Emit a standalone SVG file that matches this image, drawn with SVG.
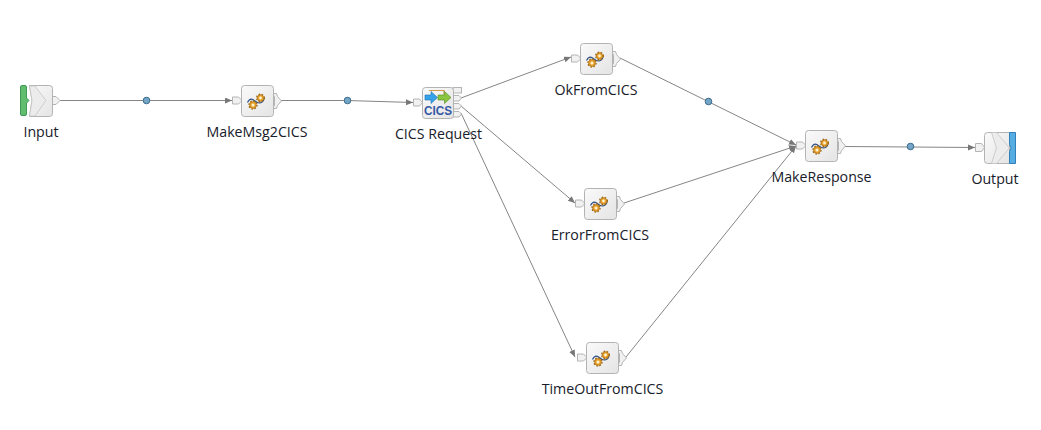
<svg xmlns="http://www.w3.org/2000/svg" width="1041" height="430" viewBox="0 0 1041 430">
<style>
.lbl{font-family:"Open Sans","Noto Sans","Liberation Sans",sans-serif;font-size:14.2px;fill:#17202a;text-anchor:middle}
.box{fill:url(#g);stroke:#b3b3b3;stroke-width:1}
.term{fill:#f1f1f1;stroke:#b4b4b4;stroke-width:1}
.conn{fill:none;stroke:#858585;stroke-width:1;marker-end:url(#arr)}
.dot{fill:#74a5c6;stroke:#3d6c8c;stroke-width:1}
.teeth{fill:none;stroke:#9a6410;stroke-width:1.400;stroke-dasharray:1.600 1.500}
.gear{fill:#e9a32e;stroke:#a86d12;stroke-width:.7}
</style>
<defs>
<linearGradient id="g" x1="0" y1="0" x2="1" y2="1"><stop offset="0" stop-color="#fafafa"/><stop offset="1" stop-color="#e4e4e4"/></linearGradient>
<marker id="arr" markerWidth="8" markerHeight="7" refX="7" refY="3" orient="auto" markerUnits="userSpaceOnUse"><path d="M0 0L7 3L0 6Z" fill="#777"/></marker>
<g id="compute">
<path class="term" d="M-9 11.500h6l3.500 3.500-3.500 3.500h-6z"/>
<path class="term" d="M31 8h4l1 3 4 4.500-4 4.500-1 3h-4l2-3.500v-8z"/>
<rect class="box" x="0" y="0" width="32" height="31" rx="3"/>
<path d="M6 17c2.500-5 5-3.500 7.500-1.500s6 4 9-1.500" fill="none" stroke="#2c4f86" stroke-width="1.100"/>
<circle class="teeth" cx="11.500" cy="19.500" r="4"/>
<circle class="gear" cx="11.500" cy="19.500" r="3.400"/>
<circle cx="11.500" cy="19.500" r="1.500" fill="#fdf3d0"/>
<circle class="teeth" cx="19" cy="12.500" r="3.800"/>
<circle class="gear" cx="19" cy="12.500" r="3.200"/>
<circle cx="19" cy="12.500" r="1.400" fill="#fdf3d0"/>
</g>
</defs>
<rect width="1041" height="430" fill="#ffffff"/>
<g id="connectors">
<path class="conn" d="M60 100.500H232"/>
<path class="conn" d="M281 100.500L347 100.500L413 102.500"/>
<path class="conn" d="M461 98L571 57"/>
<path class="conn" d="M461 106L575 203"/>
<path class="conn" d="M461 113L575 357"/>
<path class="conn" d="M620 58L796 145"/>
<path class="conn" d="M624 203L796 146"/>
<path class="conn" d="M626 357L796 146"/>
<path class="conn" d="M845 146.500L975 147.500"/>
<circle class="dot" cx="146.500" cy="100.500" r="3.300"/>
<circle class="dot" cx="347.500" cy="100.500" r="3.300"/>
<circle class="dot" cx="708.500" cy="101.500" r="3.300"/>
<circle class="dot" cx="910.500" cy="146.500" r="3.300"/>
</g>
<g id="input">
<path class="term" d="M52 96.500h4l4 4-4 4h-4z"/>
<path d="M20.500 87a1.500 1.500 0 0 1 1.500-1.500h3a1.500 1.500 0 0 1 1.500 1.500v11l2.500 2.500-2.500 2.500v11a1.500 1.500 0 0 1-1.500 1.500h-3a1.500 1.500 0 0 1-1.500-1.500z" fill="#62bd6e" stroke="#3f9a5a"/>
<path class="box" d="M29.500 85.500h20a3 3 0 0 1 3 3v25a3 3 0 0 1-3 3h-20l2.500-16z"/>
<path d="M35 86l11 14.500-11 15.500h-5.500l2.500-15.500-2.500-14.500z" fill="#ececec" stroke="#c4c4c4" stroke-width=".8"/>
<text class="lbl" x="41" y="137">Input</text>
</g>
<g id="makemsg2cics"><use href="#compute" x="241.500" y="85.500"/><text class="lbl" x="257" y="137">MakeMsg2CICS</text></g>
<g id="cicsrequest">
<path class="term" d="M413.500 99h6l3 3.500-3 3.500h-6z"/>
<rect class="term" x="453" y="87.500" width="8.500" height="5.500" fill="#e6e6e6"/>
<path class="term" d="M453 95.500h6l2.500 2.500-2.500 3h-6z"/>
<path class="term" d="M453 103.500h6l2.500 2.500-2.500 3h-6z"/>
<path class="term" d="M453 111.500h6l2.500 2.500-2.500 3h-6z"/>
<rect class="box" x="422.500" y="87.500" width="31" height="31" rx="3"/>
<path d="M429 90.500h15v4" fill="none" stroke="#cf9a45" stroke-width="1.200"/>
<path d="M425 95h6v-3.500l6.500 6-6.500 6v-3.500h-6z" fill="#36a2e8" stroke="#1f6fb5" stroke-width=".6"/>
<path d="M438 95h6.500v-3.500l6.500 6-6.500 6v-3.500h-6.500z" fill="#8ac63f" stroke="#4f8a22" stroke-width=".6"/>
<text x="438" y="115" font-family="Liberation Sans,sans-serif" font-size="13" font-weight="700" fill="#3558a4" text-anchor="middle" textLength="28" lengthAdjust="spacingAndGlyphs">CICS</text>
<text class="lbl" x="438.500" y="139">CICS Request</text>
</g>
<g id="okfromcics"><use href="#compute" x="580.500" y="43.500"/><text class="lbl" x="596" y="95">OkFromCICS</text></g>
<g id="errorfromcics"><use href="#compute" x="584.500" y="188.500"/><text class="lbl" x="600" y="240">ErrorFromCICS</text></g>
<g id="timeoutfromcics"><use href="#compute" x="586.500" y="342.500"/><text class="lbl" x="602.500" y="394">TimeOutFromCICS</text></g>
<g id="makeresponse"><use href="#compute" x="805.500" y="130.500"/><text class="lbl" x="821.500" y="182">MakeResponse</text></g>
<g id="output">
<path class="term" d="M975.500 143.500h6l3 4-3 4h-6z"/>
<path class="box" d="M987.500 132.500h22v31h-22a3 3 0 0 1-3-3v-25a3 3 0 0 1 3-3z"/>
<path d="M991.500 132.500h5l13 15.500-13 15.500h-5l5-15.500z" fill="#ececec" stroke="#c4c4c4" stroke-width=".8"/>
<path d="M1009.500 132.500h6v31h-6v-12l1.500-3.500-1.500-3.500z" fill="#57ace2" stroke="#2f80b8"/>
<text class="lbl" x="995" y="184">Output</text>
</g>
</svg>
